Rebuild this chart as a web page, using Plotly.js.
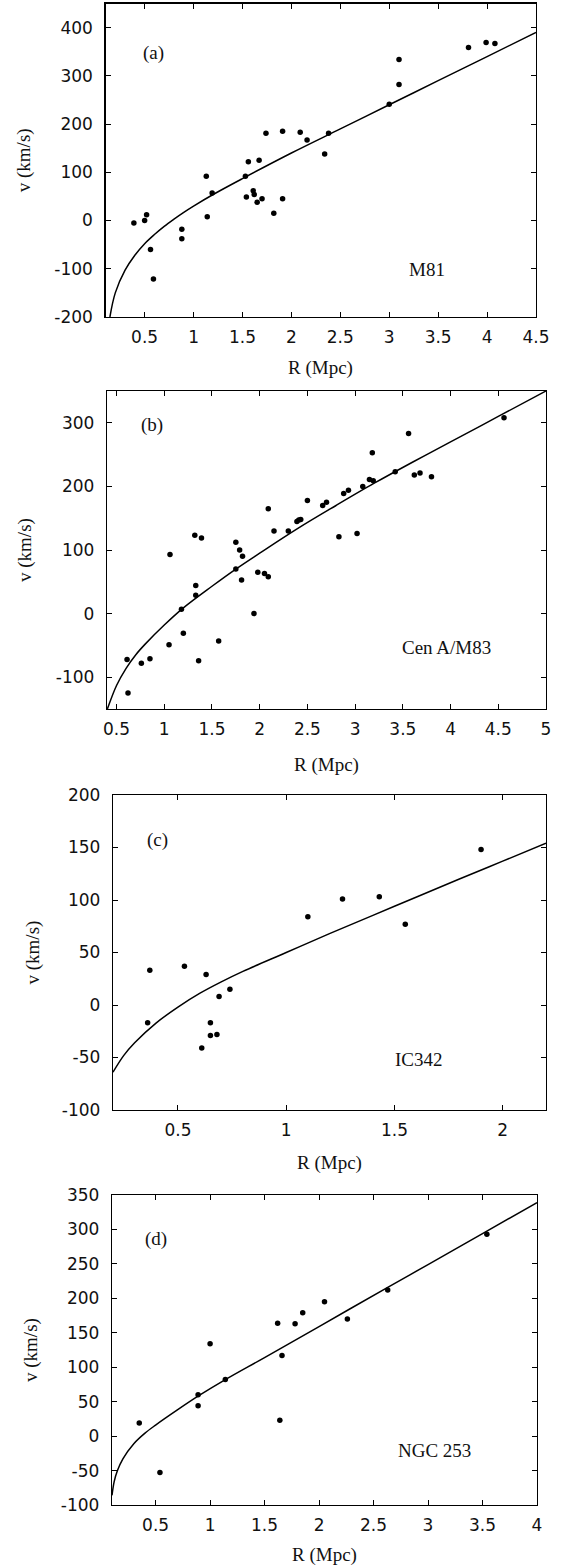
<!DOCTYPE html>
<html>
<head>
<meta charset="utf-8">
<script src="https://cdn.plot.ly/plotly-3.0.1.min.js"></script>
<style>
html,body{margin:0;padding:0;background:#fff;}
#chart{width:575px;height:1566px;}
</style>
</head>
<body>
<div id="chart"></div>
<script>
// ---------- DATA ----------
// Panel (a) M81
const aR = [0.39,0.50,0.52,0.56,0.59,0.88,0.88,1.13,1.14,1.19,1.53,1.56,1.54,1.61,1.62,1.65,1.67,1.70,1.74,1.82,1.91,1.91,2.09,2.16,2.34,2.38,3.00,3.10,3.10,3.81,3.99,4.08];
const aV = [-5,0,12,-60,-121,-18,-38,92,8,57,92,122,49,62,54,38,125,45,181,15,185,45,183,167,138,181,241,334,282,359,369,367];
const aCurveR = [0.145,0.2,0.3,0.4,0.5,0.6,0.7,0.8,0.9,1.0,1.2,1.5,2.0,2.5,3.0,3.5,4.0,4.5];
const aCurveV = [-200,-150,-103,-72,-48,-29,-12,3,17,30,54,87,140,190,240,290,340,390];

// Panel (b) Cen A/M83
const bR = [0.61,0.62,0.76,0.85,1.05,1.06,1.18,1.20,1.32,1.33,1.33,1.36,1.39,1.57,1.75,1.75,1.79,1.82,1.81,1.94,1.98,2.05,2.09,2.09,2.15,2.30,2.39,2.41,2.43,2.50,2.66,2.70,2.83,2.88,2.93,3.02,3.08,3.15,3.19,3.18,3.42,3.56,3.62,3.68,3.80,4.56];
const bV = [-72,-125,-78,-71,-49,93,7,-31,123,44,29,-74,119,-43,70,112,100,90,53,0,65,63,58,165,130,130,145,147,148,178,170,175,121,189,194,126,200,211,209,253,223,283,218,221,215,308];
const bCurveR = [0.404,0.5,0.6,0.7,0.8,1.0,1.2,1.5,1.75,2.0,2.4,2.8,3.2,3.6,4.0,4.5,5.0];
const bCurveV = [-150,-113,-86,-65,-48,-18,9,43,70,95,134,170,205,238,270,310,350];

// Panel (c) IC342
const cR = [0.36,0.37,0.53,0.63,0.61,0.65,0.65,0.68,0.69,0.74,1.10,1.26,1.43,1.55,1.90];
const cV = [-17,33,37,29,-41,-17,-29,-28,8,15,84,101,103,77,148];
const cCurveR = [0.2,0.25,0.3,0.4,0.5,0.6,0.7,0.8,1.0,1.2,1.5,1.8,2.0,2.2];
const cCurveV = [-64,-48,-36,-17,-2,11,22,32,50,68,94,120,137,154];

// Panel (d) NGC 253
const dR = [0.35,0.54,0.89,0.89,1.00,1.14,1.62,1.64,1.66,1.78,1.85,2.05,2.26,2.63,3.54];
const dV = [19,-53,60,44,134,82,164,23,117,163,179,195,170,212,293];
const dCurveR = [0.1,0.12,0.15,0.2,0.3,0.4,0.5,0.7,0.9,1.14,1.5,2.0,2.63,3.0,3.5,4.0];
const dCurveV = [-86,-66,-50,-33,-11,4,16,38,59,82,114,159,216,249,294,339];

// Tick values / labels
const aXTicks = [0.5,1,1.5,2,2.5,3,3.5,4,4.5];
const aXText  = ['0.5','1','1.5','2','2.5','3','3.5','4','4.5'];
const aYTicks = [-200,-100,0,100,200,300,400];
const aYText  = ['-200','-100','0','100','200','300','400'];
const bXTicks = [0.5,1,1.5,2,2.5,3,3.5,4,4.5,5];
const bXText  = ['0.5','1','1.5','2','2.5','3','3.5','4','4.5','5'];
const bYTicks = [-100,0,100,200,300];
const bYText  = ['-100','0','100','200','300'];
const cXTicks = [0.5,1,1.5,2];
const cXText  = ['0.5','1','1.5','2'];
const cYTicks = [-100,-50,0,50,100,150,200];
const cYText  = ['-100','-50','0','50','100','150','200'];
const dXTicks = [0.5,1,1.5,2,2.5,3,3.5,4];
const dXText  = ['0.5','1','1.5','2','2.5','3','3.5','4'];
const dYTicks = [-100,-50,0,50,100,150,200,250,300,350];
const dYText  = ['-100','-50','0','50','100','150','200','250','300','350'];

const panelLetters = ['(a)','(b)','(c)','(d)'];
const panelNames = ['M81','Cen A/M83','IC342','NGC 253'];
const xTitle = 'R (Mpc)';
const yTitle = 'v (km/s)';

// ---------- LAYOUT HELPERS ----------
const W = 575, H = 1566;
const fx = x => x / W;
const fy = y => 1 - y / H;

const panels = [
  {R:aR,V:aV,cR:aCurveR,cV:aCurveV,xr:[0.1,4.5],yr:[-200,450],xt:aXTicks,xtt:aXText,yt:aYTicks,ytt:aYText,
   box:[105.5,536,3.5,317], letter:[154,53], name:[427,269], ytx:24, xty:368},
  {R:bR,V:bV,cR:bCurveR,cV:bCurveV,xr:[0.4,5],yr:[-150,350],xt:bXTicks,xtt:bXText,yt:bYTicks,ytt:bYText,
   box:[107,546,391,709], letter:[152,425], name:[446,647], ytx:25, xty:765},
  {R:cR,V:cV,cR:cCurveR,cV:cCurveV,xr:[0.2,2.2],yr:[-100,200],xt:cXTicks,xtt:cXText,yt:cYTicks,ytt:cYText,
   box:[113,546,795,1110], letter:[157,840], name:[419,1059], ytx:32, xty:1163},
  {R:dR,V:dV,cR:dCurveR,cV:dCurveV,xr:[0.1,4],yr:[-100,350],xt:dXTicks,xtt:dXText,yt:dYTicks,ytt:dYText,
   box:[112,537,1195,1505], letter:[156,1239], name:[434,1450], ytx:31, xty:1555}
];

const tickFont = {family:"'DejaVu Sans', 'Liberation Sans', Arial, sans-serif", size:17, color:'#111'};
const serif = "'Liberation Serif', 'Times New Roman', serif";

const traces = [];
const layout = {
  width: W, height: H,
  margin: {l:0, r:0, t:0, b:0},
  paper_bgcolor: '#fff', plot_bgcolor: '#fff',
  showlegend: false,
  annotations: []
};

panels.forEach((p, i) => {
  const n = i === 0 ? '' : String(i + 1);
  const xa = 'x' + n, ya = 'y' + n;
  const [x0, x1, y0, y1] = p.box;
  const axCommon = {
    showline: true, linecolor: '#000', linewidth: 1.2,
    mirror: 'allticks', ticks: 'inside', ticklen: 5, tickwidth: 1, tickcolor: '#000',
    showgrid: false, zeroline: false, tickfont: tickFont, fixedrange: true
  };
  layout['xaxis' + n] = Object.assign({}, axCommon, {
    domain: [fx(x0), fx(x1)], range: p.xr, anchor: ya,
    tickmode: 'array', tickvals: p.xt, ticktext: p.xtt, ticklabelstandoff: 4
  });
  layout['yaxis' + n] = Object.assign({}, axCommon, {
    domain: [fy(y1), fy(y0)], range: p.yr, anchor: xa,
    tickmode: 'array', tickvals: p.yt, ticktext: p.ytt, ticklabelstandoff: 8
  });
  traces.push({
    x: p.cR, y: p.cV, xaxis: xa, yaxis: ya, type: 'scatter', mode: 'lines',
    line: {color: '#000', width: 1.5, shape: 'spline', smoothing: 1},
    hoverinfo: 'skip', cliponaxis: true
  });
  traces.push({
    x: p.R, y: p.V, xaxis: xa, yaxis: ya, type: 'scatter', mode: 'markers',
    marker: {color: '#000', size: 5.5}, cliponaxis: false
  });
  const ann = (txt, x, y, size, angle) => ({
    text: txt, xref: 'paper', yref: 'paper', x: fx(x), y: fy(y),
    xanchor: 'center', yanchor: 'middle', showarrow: false,
    textangle: angle || 0, font: {family: serif, size: size, color: '#111'}
  });
  layout.annotations.push(ann(panelLetters[i], p.letter[0], p.letter[1], 19));
  layout.annotations.push(ann(panelNames[i], p.name[0], p.name[1], 19));
  layout.annotations.push(ann(yTitle, p.ytx, (y0 + y1) / 2, 19, -90));
  layout.annotations.push(ann(xTitle, (x0 + x1) / 2, p.xty, 19));
});

Plotly.newPlot('chart', traces, layout, {displayModeBar: false, staticPlot: true});
</script>
</body>
</html>
